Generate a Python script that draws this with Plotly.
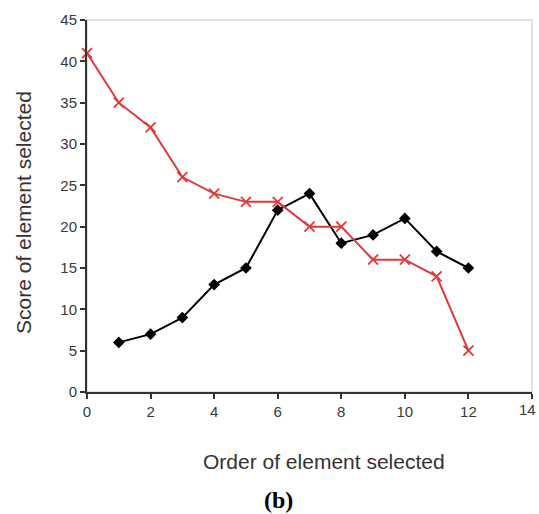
import plotly.graph_objects as go

black_x = [1, 2, 3, 4, 5, 6, 7, 8, 9, 10, 11, 12]
black_y = [6, 7, 9, 13, 15, 22, 24, 18, 19, 21, 17, 15]
red_x = [0, 1, 2, 3, 4, 5, 6, 7, 8, 9, 10, 11, 12]
red_y = [41, 35, 32, 26, 24, 23, 23, 20, 20, 16, 16, 14, 5]
x_ticks = [0, 2, 4, 6, 8, 10, 12, 14]
x_ticktext = ["0", "2", "4", "6", "8", "10", "12", ""]
last_x_label = "14"
y_ticks = [0, 5, 10, 15, 20, 25, 30, 35, 40, 45]

fig = go.Figure()
fig.add_trace(go.Scatter(x=black_x, y=black_y, mode="lines+markers",
                         line=dict(color="black", width=2),
                         marker=dict(symbol="diamond", size=9, color="black"),
                         showlegend=False, cliponaxis=False))
fig.add_trace(go.Scatter(x=red_x, y=red_y, mode="lines+markers",
                         line=dict(color="#e0393b", width=2),
                         marker=dict(symbol="x-thin-open", size=10,
                                     line=dict(color="#e0393b", width=1.8)),
                         showlegend=False, cliponaxis=False))

fig.add_shape(type="rect", xref="paper", yref="paper", x0=0, x1=1, y0=0, y1=1,
              line=dict(color="#d8d8d8", width=1.5), layer="below")

tf = dict(family="Liberation Sans, Arial, sans-serif", size=15, color="#3a3a3a")
title_font = dict(family="Liberation Sans, Arial, sans-serif", size=21, color="#333")
fig.update_layout(
    width=539, height=514,
    margin=dict(l=87, r=7, t=20, b=122),
    paper_bgcolor="white", plot_bgcolor="white",
    xaxis=dict(range=[0, 14], tickvals=x_ticks, ticktext=x_ticktext,
               showgrid=False, zeroline=False,
               showline=True, linecolor="#333", linewidth=2, automargin=False,
               ticks="outside", ticklen=5, tickcolor="#333", tickwidth=1.5,
               tickfont=tf, ticklabeloverflow="allow"),
    yaxis=dict(range=[0, 45], tickvals=y_ticks, showgrid=False, zeroline=False,
               showline=True, linecolor="#333", linewidth=2, automargin=False,
               ticks="outside", ticklen=5, tickcolor="#333", tickwidth=1.5,
               tickfont=tf, ticklabeloverflow="allow"),
    annotations=[
        dict(text=last_x_label, xref="paper", yref="paper", x=1.0135, y=-0.048,
             xanchor="right", yanchor="middle", showarrow=False, font=tf),
        dict(text="Order of element selected", xref="paper", yref="paper", x=0.533, y=-0.188,
             xanchor="center", yanchor="middle", showarrow=False, font=title_font),
        dict(text="Score of element selected", xref="paper", yref="paper", x=-0.1416, y=0.484,
             xanchor="center", yanchor="middle", showarrow=False, textangle=-90, font=title_font),
        dict(text="<b>(b)</b>", xref="paper", yref="paper", x=0.431, y=-0.29,
             xanchor="center", yanchor="middle", showarrow=False,
             font=dict(family="Liberation Serif, Times New Roman, serif", size=24, color="black"))],
)
fig.write_html("out.html", config={"displayModeBar": False},
               post_script="document.body.style.margin='0';document.body.style.overflow='hidden';")
